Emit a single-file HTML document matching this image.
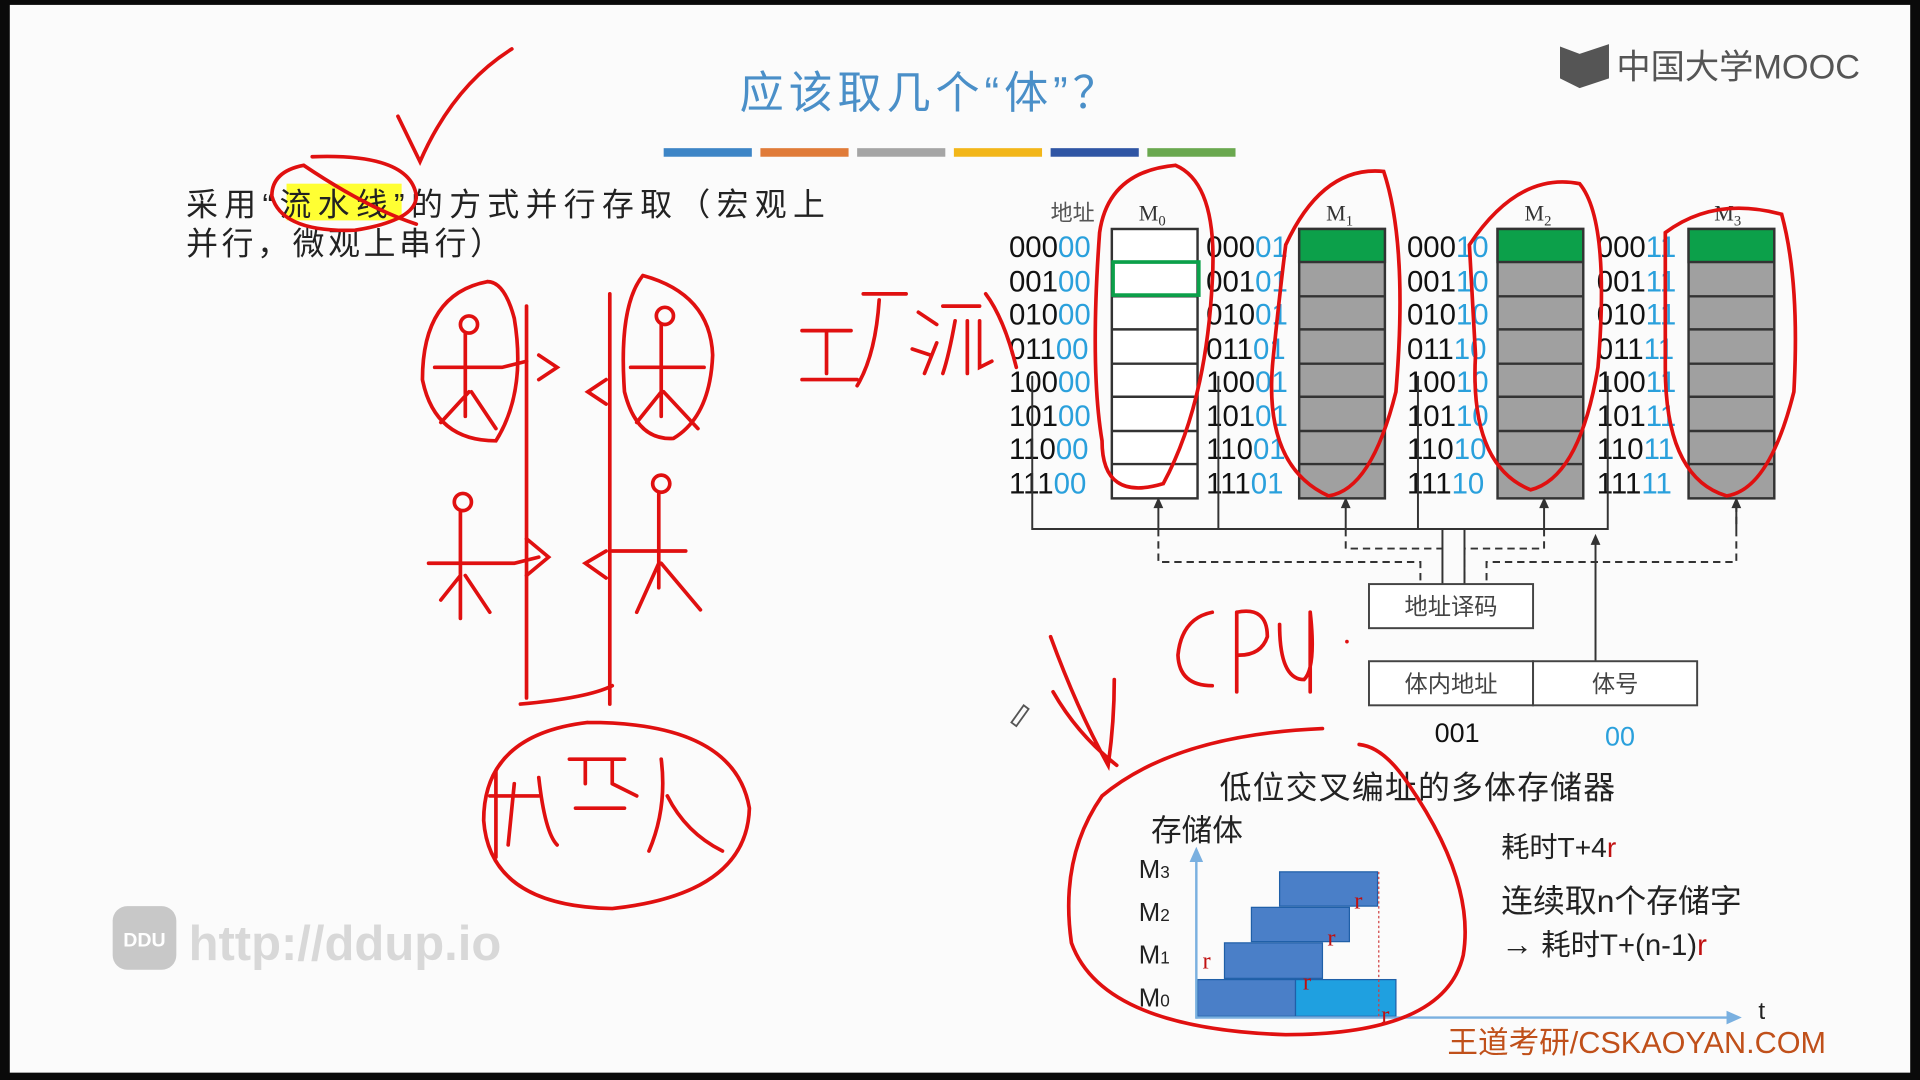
<!DOCTYPE html>
<html><head><meta charset="utf-8"><style>
html,body{margin:0;padding:0;background:#000;}
svg{display:block;}
text{font-family:"Liberation Sans","Noto Sans CJK SC",sans-serif;}
.s{font-family:"Liberation Serif","Noto Serif CJK SC",serif;}
</style></head><body>
<svg width="1920" height="1080" viewBox="0 0 1568 882" preserveAspectRatio="none" xmlns="http://www.w3.org/2000/svg">
<rect x="0" y="0" width="1568" height="882" fill="#0a0a0a"/>
<rect x="8" y="4" width="1552" height="872" fill="#fbfbfb"/>
<!-- title -->
<text x="760" y="88" font-size="36" fill="#4a8fc8" text-anchor="middle" letter-spacing="4">应该取几个“体”？</text>
<rect x="542" y="121" width="72" height="7" fill="#3d85c6"/>
<rect x="621" y="121" width="72" height="7" fill="#e07b39"/>
<rect x="700" y="121" width="72" height="7" fill="#a5a5a5"/>
<rect x="779" y="121" width="72" height="7" fill="#f2b619"/>
<rect x="858" y="121" width="72" height="7" fill="#2f55a4"/>
<rect x="937" y="121" width="72" height="7" fill="#6aa84f"/>
<!-- logo -->
<path d="M1274 38 L1290 44 L1314 36 L1314 64 L1290 72 L1274 64 Z" fill="#555"/>
<text x="1320" y="64" font-size="28" fill="#555">中国大学MOOC</text>
<!-- text -->
<rect x="234" y="150" width="94" height="30" fill="#ffff33"/>
<text x="152" y="176" font-size="26" fill="#222" letter-spacing="5.2">采用“流水线”的方式并行存取（宏观上</text>
<text x="152" y="208" font-size="26" fill="#222" letter-spacing="3">并行，微观上串行）</text>
<!-- memory banks -->
<text x="858" y="180" font-size="18" fill="#555">地址</text>
<g class="s" font-size="18" fill="#333">
<text x="930" y="180" class="s">M<tspan font-size="12" dy="4">0</tspan></text>
<text x="1083" y="180" class="s">M<tspan font-size="12" dy="4">1</tspan></text>
<text x="1245" y="180" class="s">M<tspan font-size="12" dy="4">2</tspan></text>
<text x="1400" y="180" class="s">M<tspan font-size="12" dy="4">3</tspan></text>
</g>
<g stroke="#333" stroke-width="2">
<rect x="908" y="187" width="70" height="220" fill="#fff"/>
<rect x="1061" y="187" width="70" height="220" fill="#a0a0a0"/>
<rect x="1223" y="187" width="70" height="220" fill="#a0a0a0"/>
<rect x="1379" y="187" width="70" height="220" fill="#a0a0a0"/>
<rect x="1061" y="187" width="70" height="27" fill="#0ca04a"/>
<rect x="1223" y="187" width="70" height="27" fill="#0ca04a"/>
<rect x="1379" y="187" width="70" height="27" fill="#0ca04a"/>
<path d="M908 242H978M908 269H978M908 297H978M908 324H978M908 352H978M908 379H978
M1061 242H1131M1061 269H1131M1061 297H1131M1061 324H1131M1061 352H1131M1061 379H1131
M1223 242H1293M1223 269H1293M1223 297H1293M1223 324H1293M1223 352H1293M1223 379H1293
M1379 242H1449M1379 269H1449M1379 297H1449M1379 324H1449M1379 352H1449M1379 379H1449"/>
</g>
<rect x="909" y="214" width="70" height="27" fill="none" stroke="#0ca04a" stroke-width="3"/>
<g font-size="24" fill="#111">
<text x="824" y="210">000<tspan fill="#2aa0dc">00</tspan></text>
<text x="824" y="238">001<tspan fill="#2aa0dc">00</tspan></text>
<text x="824" y="265">010<tspan fill="#2aa0dc">00</tspan></text>
<text x="824" y="293">011<tspan fill="#2aa0dc">00</tspan></text>
<text x="824" y="320">100<tspan fill="#2aa0dc">00</tspan></text>
<text x="824" y="348">101<tspan fill="#2aa0dc">00</tspan></text>
<text x="824" y="375">110<tspan fill="#2aa0dc">00</tspan></text>
<text x="824" y="403">111<tspan fill="#2aa0dc">00</tspan></text>
<text x="985" y="210">000<tspan fill="#2aa0dc">01</tspan></text>
<text x="985" y="238">001<tspan fill="#2aa0dc">01</tspan></text>
<text x="985" y="265">010<tspan fill="#2aa0dc">01</tspan></text>
<text x="985" y="293">011<tspan fill="#2aa0dc">01</tspan></text>
<text x="985" y="320">100<tspan fill="#2aa0dc">01</tspan></text>
<text x="985" y="348">101<tspan fill="#2aa0dc">01</tspan></text>
<text x="985" y="375">110<tspan fill="#2aa0dc">01</tspan></text>
<text x="985" y="403">111<tspan fill="#2aa0dc">01</tspan></text>
<text x="1149" y="210">000<tspan fill="#2aa0dc">10</tspan></text>
<text x="1149" y="238">001<tspan fill="#2aa0dc">10</tspan></text>
<text x="1149" y="265">010<tspan fill="#2aa0dc">10</tspan></text>
<text x="1149" y="293">011<tspan fill="#2aa0dc">10</tspan></text>
<text x="1149" y="320">100<tspan fill="#2aa0dc">10</tspan></text>
<text x="1149" y="348">101<tspan fill="#2aa0dc">10</tspan></text>
<text x="1149" y="375">110<tspan fill="#2aa0dc">10</tspan></text>
<text x="1149" y="403">111<tspan fill="#2aa0dc">10</tspan></text>
<text x="1304" y="210">000<tspan fill="#2aa0dc">11</tspan></text>
<text x="1304" y="238">001<tspan fill="#2aa0dc">11</tspan></text>
<text x="1304" y="265">010<tspan fill="#2aa0dc">11</tspan></text>
<text x="1304" y="293">011<tspan fill="#2aa0dc">11</tspan></text>
<text x="1304" y="320">100<tspan fill="#2aa0dc">11</tspan></text>
<text x="1304" y="348">101<tspan fill="#2aa0dc">11</tspan></text>
<text x="1304" y="375">110<tspan fill="#2aa0dc">11</tspan></text>
<text x="1304" y="403">111<tspan fill="#2aa0dc">11</tspan></text>
</g>
<!-- bus lines -->
<g stroke="#333" stroke-width="1.6" fill="none">
<path d="M843 307V432H1313V307M995 307V432M1158 307V432"/>
<path d="M1303 540V440"/>
<path d="M1178 432V477M1196 432V477"/>
<path d="M946 412V432M1099 412V432M1261 412V432M1418 412V432"/>
</g>
<g stroke="#333" stroke-width="1.6" fill="none" stroke-dasharray="6,4">
<path d="M946 432V459H1160V477M1099 432V448H1178M1261 432V448H1196V477M1418 412V459H1214V477"/>
</g>
<g fill="#333">
<path d="M946 406l-4 9h8z M1099 406l-4 9h8z M1261 406l-4 9h8z M1418 406l-4 9h8z M1303 436l-4 9h8z"/>
</g>
<rect x="1118" y="477" width="134" height="36" fill="#fff" stroke="#444" stroke-width="1.6"/>
<text x="1185" y="502" font-size="19" fill="#444" text-anchor="middle">地址译码</text>
<rect x="1118" y="540" width="134" height="36" fill="#fff" stroke="#444" stroke-width="1.6"/>
<rect x="1252" y="540" width="134" height="36" fill="#fff" stroke="#444" stroke-width="1.6"/>
<text x="1185" y="565" font-size="19" fill="#444" text-anchor="middle">体内地址</text>
<text x="1319" y="565" font-size="19" fill="#444" text-anchor="middle">体号</text>
<text x="1190" y="606" font-size="22" fill="#111" text-anchor="middle">001</text>
<text x="1323" y="609" font-size="22" fill="#2aa0dc" text-anchor="middle">00</text>
<!-- timing -->
<text x="1158" y="652" font-size="26" fill="#222" text-anchor="middle" letter-spacing="1">低位交叉编址的多体存储器</text>
<text x="940" y="687" font-size="25" fill="#222">存储体</text>
<g font-size="21" fill="#222">
<text x="930" y="717">M<tspan font-size="14">3</tspan></text>
<text x="930" y="752">M<tspan font-size="14">2</tspan></text>
<text x="930" y="787">M<tspan font-size="14">1</tspan></text>
<text x="930" y="822">M<tspan font-size="14">0</tspan></text>
</g>
<g stroke="#1f5fa8" stroke-width="1">
<rect x="1045" y="712" width="80" height="28" fill="#4a7fc8"/>
<rect x="1022" y="741" width="80" height="28" fill="#4a7fc8"/>
<rect x="1000" y="770" width="80" height="29" fill="#4a7fc8"/>
<rect x="978" y="800" width="80" height="30" fill="#4a7fc8"/>
<rect x="1058" y="800" width="82" height="30" fill="#1fa0e0"/>
</g>
<path d="M1126 712V830" stroke="#d04040" stroke-width="1" stroke-dasharray="2,2"/>
<g stroke="#7ab0e0" stroke-width="2" fill="#7ab0e0">
<path d="M977 832V700" fill="none"/><path d="M977 694l-4 9h8z"/>
<path d="M977 831H1412" fill="none"/><path d="M1420 831l-9 -4v8z"/>
</g>
<text x="1436" y="832" font-size="20" fill="#222">t</text>
<g font-size="20" fill="#c01010">
<text x="982" y="791" class="s">r</text><text x="1064" y="808" class="s">r</text><text x="1084" y="772" class="s">r</text><text x="1106" y="742" class="s">r</text><text x="1128" y="835" class="s">r</text>
</g>
<text x="1226" y="700" font-size="23" fill="#222">耗时T+4<tspan fill="#c01010">r</tspan></text>
<text x="1226" y="745" font-size="26" fill="#222">连续取n个存储字</text>
<text x="1226" y="780" font-size="24" fill="#222"><tspan font-size="26">→</tspan> 耗时T+(n-1)<tspan fill="#c01010">r</tspan></text>
<text x="1182" y="860" font-size="25" fill="#c0501a">王道考研/CSKAOYAN.COM</text>
<!-- watermark -->
<rect x="92" y="740" width="52" height="52" rx="12" fill="#c8c8c8"/>
<text x="118" y="773" font-size="16" fill="#fff" text-anchor="middle" font-weight="bold">DDU</text>
<text x="154" y="784" font-size="40" fill="#d8d8d8" font-weight="bold">http://ddup.io</text>
<!-- red handwriting -->
<g stroke="#e01010" stroke-width="3" fill="none" stroke-linecap="round">
<path d="M325 95 L343 132 Q370 70 418 40"/>
<path d="M340 183 Q300 170 248 135 Q222 140 222 160 Q230 190 290 188 Q340 180 340 160 Q335 125 255 128"/>
<path d="M898 190 Q905 140 960 135 Q995 150 990 230 Q985 330 950 395 Q900 410 900 360 Q890 300 898 190"/>
<path d="M1050 200 Q1080 135 1130 140 Q1150 200 1140 320 Q1120 400 1085 405 Q1030 380 1040 290 Q1045 240 1050 200"/>
<path d="M1200 200 Q1240 140 1290 150 Q1315 180 1305 300 Q1290 390 1250 400 Q1200 380 1205 290 Z"/>
<path d="M1360 190 Q1400 160 1455 175 Q1470 230 1465 320 Q1445 400 1410 405 Q1360 390 1360 300 Z"/>
<path d="M398 230 Q345 240 345 310 Q355 360 405 360 Q430 320 420 260 Q412 230 398 230"/>
<path d="M525 225 Q505 250 510 320 Q520 360 550 358 Q580 340 582 290 Q580 240 525 225"/>
<path d="M430 250 V570 M498 240 V575 M425 575 Q480 570 500 560"/>
<circle cx="383" cy="265" r="7"/><circle cx="543" cy="258" r="7"/>
<path d="M380 272 V340 M355 300 H410 L430 295 M383 320 L360 345 M385 320 L405 350 M440 290 L455 300 L440 310"/>
<path d="M540 265 V340 M515 300 H575 M540 320 L520 345 M542 320 L570 350 M495 310 L480 320 L495 330"/>
<circle cx="378" cy="410" r="7"/><circle cx="540" cy="395" r="7"/>
<path d="M376 418 V505 M350 460 H420 L440 455 M376 470 L360 490 M380 470 L400 500 M430 440 L448 455 L430 470"/>
<path d="M538 403 V480 M500 450 H560 M538 460 L520 500 M540 460 L572 498 M495 450 L478 460 L495 472"/>
<path d="M480 590 Q395 600 395 670 Q400 740 500 742 Q610 730 612 660 Q600 590 480 590"/>
<path d="M405 630 V700 M400 650 H440 M420 640 L415 690 M440 635 Q445 680 455 690 M465 620 H510 M470 660 H510 M500 640 L520 650 M478 620 V640 M500 620 V640 M540 620 Q545 660 530 695 M545 650 Q560 680 590 695"/>
<path d="M655 270 H695 M675 270 V305 M655 310 H700 M705 240 H740 M718 245 Q715 290 700 315 M750 255 L765 265 M745 285 L760 290 M755 305 L765 280 M770 250 H800 M780 262 Q775 290 770 305 M790 262 V305 M800 262 V300 L810 295 M805 240 Q820 260 830 300"/>
<path d="M858 520 Q880 580 905 625 Q910 590 910 555 M860 565 Q880 600 912 625"/>
<path d="M990 500 Q965 505 962 535 Q963 560 990 560 M1010 500 V565 M1010 500 Q1035 495 1035 520 Q1030 535 1012 535 M1045 510 Q1045 555 1065 555 Q1075 545 1070 500 M1070 500 V565"/>
<path d="M1080 595 Q960 600 900 650 Q865 700 875 770 Q900 840 1050 845 Q1180 845 1195 780 Q1205 720 1150 640 Q1130 610 1110 608"/>
</g>
<circle cx="1100" cy="524" r="1.5" fill="#e01010"/>
<path d="M826 590 l10 -14 l4 3 l-10 14 z" fill="none" stroke="#555" stroke-width="1.5"/>
</svg>
</body></html>
